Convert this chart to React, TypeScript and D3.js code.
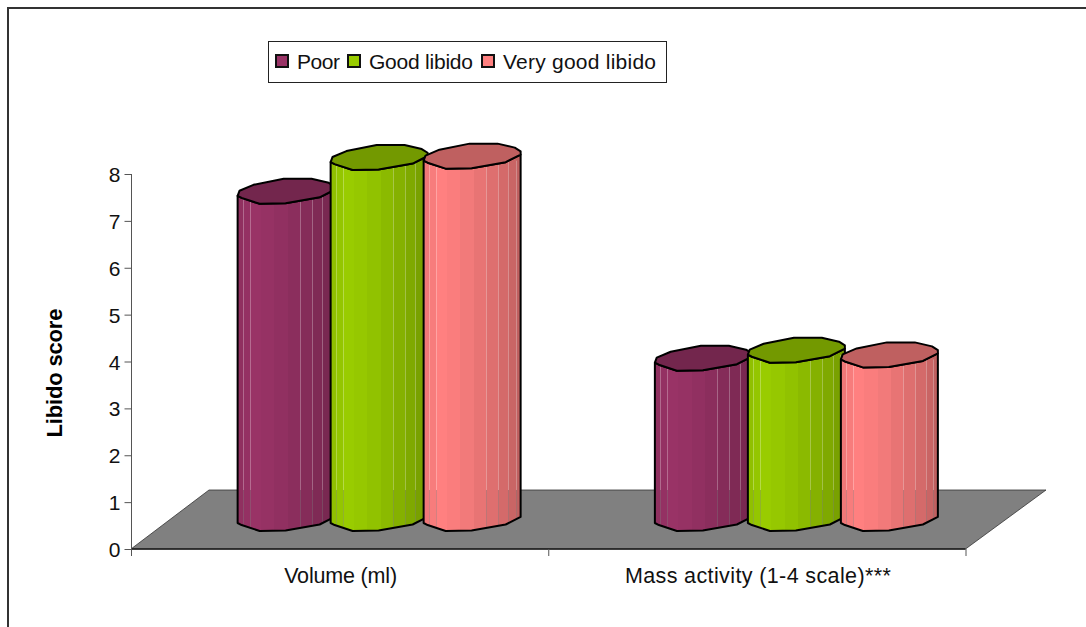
import { useRef, useEffect } from "react";
import * as d3 from "d3";

const categories = ["Volume (ml)", "Mass activity (1-4 scale)***"];
const seriesNames = ["Poor", "Good libido", "Very good libido"];
const poor = [6.98, 3.42];
const good = [7.7, 3.59];
const veryGood = [7.73, 3.49];
const seriesValues = [poor, good, veryGood];
const seriesColors = ["#993366", "#99cc00", "#ff8080"];
const yTicks = [0, 1, 2, 3, 4, 5, 6, 7, 8];

// the facets of the cylinder, left to right: start of strip (0-1 of width) and shade
const stripStarts = [0, 0.055, 0.13, 0.24, 0.38, 0.52, 0.645, 0.765, 0.875, 0.95];
const stripShades = [0.94, 0.97, 1, 0.98, 0.95, 0.91, 0.87, 0.83, 0.79, 0.75];
const seams = [0.055, 0.13, 0.645, 0.765, 0.875, 0.95];

// rim of the top, as fractions of the bar pitch
const backRim: [number, number][] = [
  [0, 0], [0.02, -0.054], [0.17, -0.118], [0.495, -0.183], [0.795, -0.183],
  [0.98, -0.14], [1.043, -0.1],
];
const frontRim: [number, number][] = [
  [1.043, -0.065], [0.882, 0.016], [0.516, 0.081], [0.237, 0.086], [0.043, 0.022], [0, 0],
];

const fontFamily = "'Liberation Sans', Arial, sans-serif";

export default function App() {
  const ref = useRef<SVGSVGElement | null>(null);

  useEffect(() => {
    const svg = d3.select(ref.current);
    svg.selectAll("*").remove();

    const depthX = 78;
    const depthY = 59;
    const baseShift = 26; // bar feet sit this far above the front edge of the floor

    const x0 = d3.scaleBand<string>().domain(categories).range([131, 965.5]);
    const x1 = d3.scaleBand<string>().domain(seriesNames).range([0, 279]);
    const y = d3.scaleLinear().domain([0, 8]).range([549, 174]);
    const barW = x1.bandwidth();
    const bodyW = barW * 1.043;
    const groupShift = (x0.bandwidth() - 279) / 2 + 37.5;

    // outer frame, open on the right and at the bottom
    svg
      .append("path")
      .attr("d", "M8,627V8H1086")
      .attr("fill", "none")
      .attr("stroke", "#333")
      .attr("stroke-width", 2);

    // floor
    const [fx0, fx1] = x0.range();
    const floor = d3.path();
    floor.moveTo(fx0, y(0));
    floor.lineTo(fx0 + depthX, y(0) - depthY);
    floor.lineTo(fx1 + depthX + 2.5, y(0) - depthY);
    floor.lineTo(fx1, y(0));
    floor.closePath();
    svg.append("path").attr("d", floor.toString()).attr("fill", "#808080").attr("stroke", "#333").attr("stroke-width", 0.8);
    svg
      .append("line")
      .attr("x1", fx0)
      .attr("x2", fx1)
      .attr("y1", y(0))
      .attr("y2", y(0))
      .attr("stroke", "#1a1a1a")
      .attr("stroke-width", 1.6);

    // y axis
    const yAxis = svg
      .append("g")
      .attr("transform", `translate(${fx0 + 0.5},0)`)
      .call(d3.axisLeft(y).tickValues(yTicks).tickSize(7).tickPadding(4).tickFormat(d3.format("d")));
    yAxis.selectAll("path").attr("stroke", "#555").attr("d", `M0,${y(8)}V${y(0)}`);
    yAxis.selectAll("line").attr("stroke", "#555");
    yAxis
      .selectAll("text")
      .attr("font-size", 21)
      .attr("font-family", fontFamily)
      .attr("fill", "#111")
      .attr("dy", "0.36em");

    // x axis: ticks at the group boundaries, labels centred on the band
    const boundaries = [...categories.map((c) => x0(c)!), fx1];
    svg
      .selectAll("line.xtick")
      .data(boundaries)
      .join("line")
      .attr("class", "xtick")
      .attr("x1", (d) => d + 0.5)
      .attr("x2", (d) => d + 0.5)
      .attr("y1", y(0))
      .attr("y2", y(0) + 7)
      .attr("stroke", "#555");
    const xLabelWidths = [113, 266];
    svg
      .selectAll("text.xlabel")
      .data(categories)
      .join("text")
      .attr("class", "xlabel")
      .attr("x", (d) => x0(d)! + x0.bandwidth() / 2 + 1)
      .attr("y", 583)
      .attr("text-anchor", "middle")
      .attr("font-size", 21.5)
      .attr("font-family", fontFamily)
      .attr("fill", "#111")
      .attr("textLength", (_, i) => xLabelWidths[i])
      .text((d) => d);

    // y title
    svg
      .append("text")
      .attr("transform", "translate(62,373) rotate(-90)")
      .attr("text-anchor", "middle")
      .attr("font-size", 22)
      .attr("font-weight", "bold")
      .attr("font-family", fontFamily)
      .attr("fill", "#000")
      .attr("textLength", 129)
      .text("Libido score");

    // cylinders, drawn left to right so each one covers its neighbour's rim
    const defs = svg.append("defs");
    const rimLine = d3.line<[number, number]>();

    categories.forEach((cat, ci) => {
      seriesNames.forEach((name, si) => {
        const color = d3.rgb(seriesColors[si]);
        const left = x0(cat)! + groupShift + x1(name)!;
        const top = y(seriesValues[si][ci]) - baseShift;
        const foot = y(0) - baseShift;
        const pt = (p: [number, number], yy: number): [number, number] => [
          left + p[0] * barW,
          yy + p[1] * barW,
        ];

        // body outline: left side, front of the top rim reversed, right side, front of the foot
        const topFront = frontRim.map((p) => pt(p, top)).reverse();
        const footFront = frontRim.map((p) => pt(p, foot));
        const body = [...topFront, ...footFront];
        const clipId = `body-${ci}-${si}`;
        defs.append("clipPath").attr("id", clipId).append("path").attr("d", rimLine(body) + "Z");

        const g = svg.append("g");
        const strips = g.append("g").attr("clip-path", `url(#${clipId})`);
        stripStarts.forEach((s, k) => {
          const start = Math.round(left + s * bodyW);
          const end = k + 1 < stripStarts.length ? Math.round(left + stripStarts[k + 1] * bodyW) : Math.round(left + bodyW) + 2;
          const c = d3.rgb(color.r * stripShades[k], color.g * stripShades[k], color.b * stripShades[k]);
          strips
            .append("rect")
            .attr("x", start)
            .attr("width", end - start)
            .attr("y", top - 0.2 * barW)
            .attr("height", foot - top + 0.4 * barW)
            .attr("fill", c.formatHex());
        });
        // hairline seams between facets; the floor shows through them
        const floorBack = y(0) - depthY;
        seams.forEach((s) => {
          const sx = Math.round(left + s * bodyW) + 0.5;
          strips
            .append("line")
            .attr("x1", sx)
            .attr("x2", sx)
            .attr("y1", top)
            .attr("y2", floorBack)
            .attr("stroke", "#fff")
            .attr("stroke-opacity", 0.28);
          strips
            .append("line")
            .attr("x1", sx)
            .attr("x2", sx)
            .attr("y1", floorBack)
            .attr("y2", foot + 0.1 * barW)
            .attr("stroke", "#808080")
            .attr("stroke-opacity", 0.35);
        });

        g.append("path")
          .attr("d", rimLine(body) + "Z")
          .attr("fill", "none")
          .attr("stroke", "#000")
          .attr("stroke-width", 2)
          .attr("stroke-linejoin", "round");

        // top face
        const rim = [...backRim.map((p) => pt(p, top)), ...frontRim.map((p) => pt(p, top))];
        g.append("path")
          .attr("d", rimLine(rim) + "Z")
          .attr("fill", d3.rgb(color.r * 0.75, color.g * 0.75, color.b * 0.75).formatHex())
          .attr("stroke", "#000")
          .attr("stroke-width", 2)
          .attr("stroke-linejoin", "round");
      });
    });

    // legend
    svg
      .append("rect")
      .attr("x", 268.5)
      .attr("y", 41.5)
      .attr("width", 398)
      .attr("height", 41)
      .attr("fill", "#fff")
      .attr("stroke", "#222");
    const swatchX = [276, 348, 482];
    const legendWidths = [43, 104, 153];
    const legend = svg
      .selectAll("g.legend")
      .data(seriesNames)
      .join("g")
      .attr("class", "legend")
      .attr("transform", (_, i) => `translate(${swatchX[i]},55)`);
    legend
      .append("rect")
      .attr("width", 12)
      .attr("height", 12)
      .attr("fill", (_, i) => seriesColors[i])
      .attr("stroke", "#111")
      .attr("stroke-width", 2);
    legend
      .append("text")
      .attr("x", 21)
      .attr("y", 14)
      .attr("font-size", 21)
      .attr("font-family", fontFamily)
      .attr("fill", "#111")
      .attr("textLength", (_, i) => legendWidths[i])
      .text((d) => d);
  }, []);

  return (
    <svg
      ref={ref}
      width={1086}
      height={627}
      style={{ position: "absolute", left: 0, top: 0, background: "#fff" }}
    ></svg>
  );
}
